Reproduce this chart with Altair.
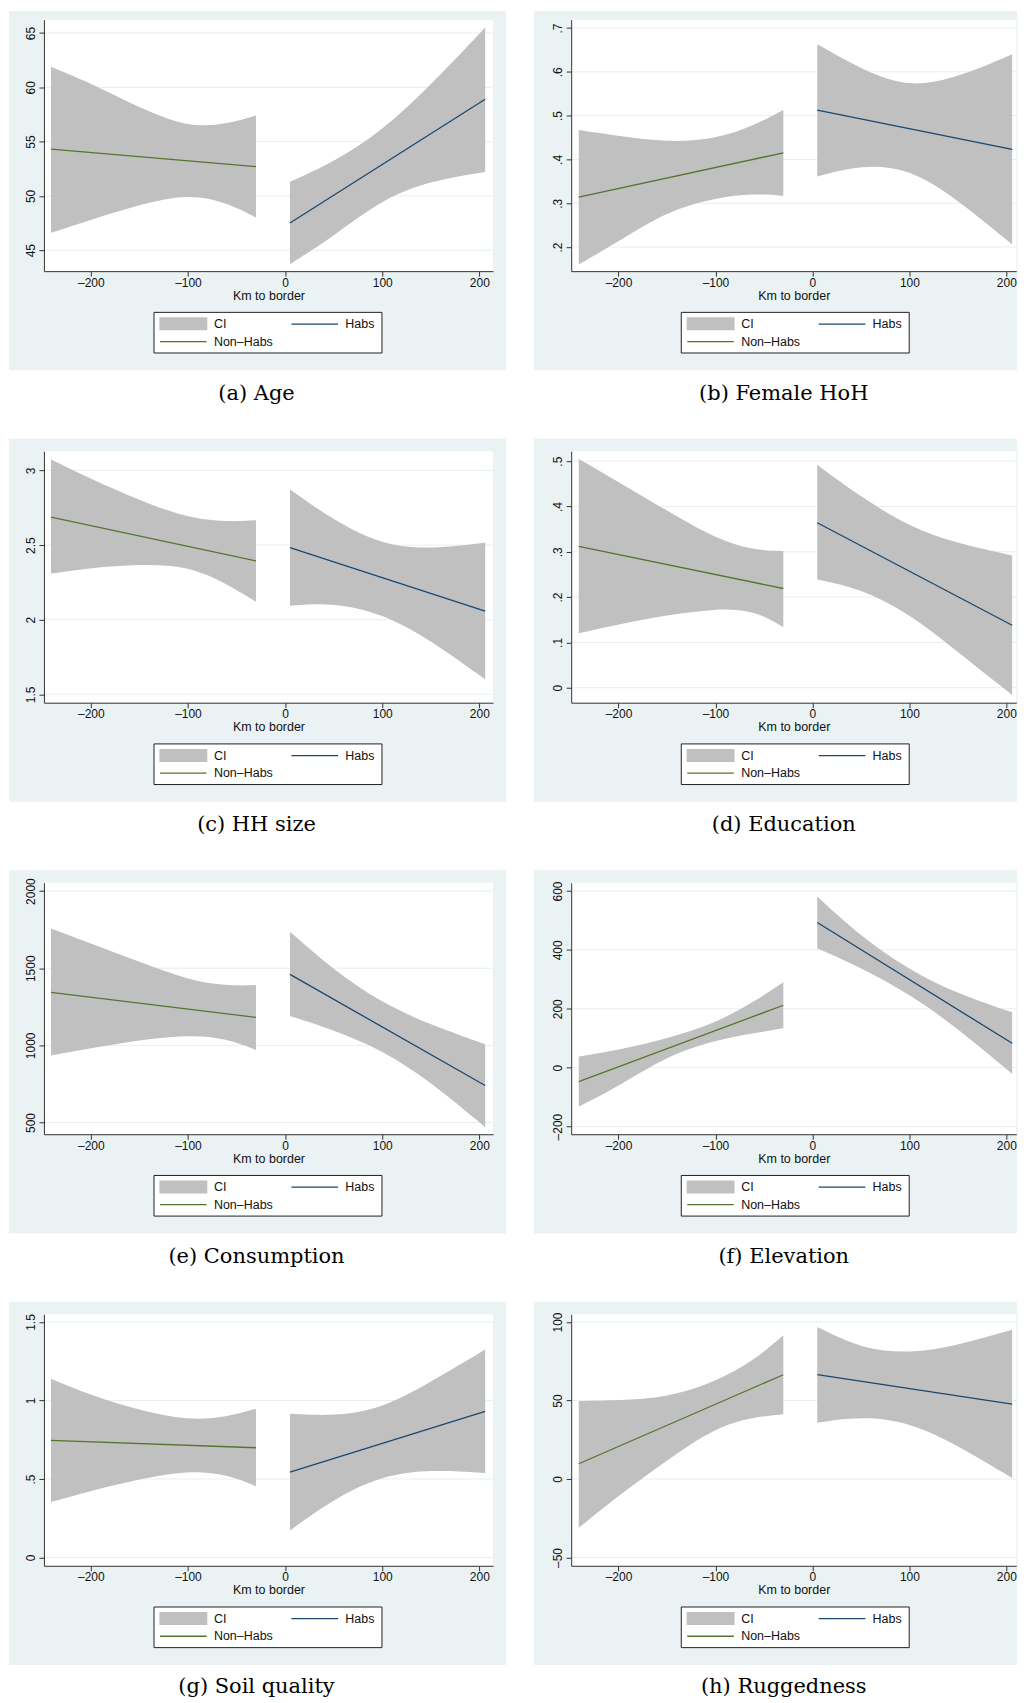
import altair as alt
import pandas as pd

# ---------------- data ----------------
XL = [-241, -200, -150, -100, -60, -30]      # Non-Habs side (km to border)
XR = [5, 50, 100, 150, 206]                  # Habs side
FIT_XL = [-241, -30]
FIT_XR = [5, 206]
X_TICKS = [-200, -100, 0, 100, 200]

captions = ["(a) Age", "(b) Female HoH", "(c) HH size", "(d) Education",
            "(e) Consumption", "(f) Elevation", "(g) Soil quality", "(h) Ruggedness"]

# (a) Age
age_loL = [46.6, 47.8, 49.2, 50.2, 49.4, 48.0]
age_hiL = [61.9, 60.4, 58.1, 56.3, 56.6, 57.4]
age_loR = [43.7, 46.3, 49.7, 51.4, 52.2]
age_hiR = [51.3, 53.1, 56.0, 60.2, 65.5]
age_fitL = [54.3, 52.7]
age_fitR = [47.5, 58.9]
age_dom = [43.07, 66.23]
age_ticks = [45, 50, 55, 60, 65]

# (b) Female HoH
fem_loL = [0.160, 0.213, 0.282, 0.313, 0.322, 0.317]
fem_hiL = [0.467, 0.454, 0.439, 0.446, 0.477, 0.513]
fem_loR = [0.361, 0.388, 0.380, 0.308, 0.206]
fem_hiR = [0.663, 0.606, 0.563, 0.587, 0.640]
fem_fitL = [0.314, 0.415]
fem_fitR = [0.5125, 0.423]
fem_dom = [0.145, 0.719]
fem_ticks = [0.2, 0.3, 0.4, 0.5, 0.6, 0.7]

# (c) HH size
hh_loL = [2.309, 2.347, 2.372, 2.362, 2.242, 2.120]
hh_hiL = [3.074, 2.944, 2.800, 2.680, 2.655, 2.666]
hh_loR = [2.093, 2.115, 2.042, 1.863, 1.600]
hh_hiR = [2.873, 2.666, 2.499, 2.472, 2.516]
hh_fitL = [2.688, 2.394]
hh_fitR = [2.483, 2.057]
hh_dom = [1.444, 3.129]
hh_ticks = [1.5, 2, 2.5, 3]

# (d) Education
edu_loL = [0.120, 0.140, 0.160, 0.175, 0.171, 0.134]
edu_hiL = [0.505, 0.454, 0.391, 0.329, 0.303, 0.302]
edu_loR = [0.239, 0.219, 0.164, 0.079, -0.016]
edu_hiR = [0.492, 0.421, 0.355, 0.318, 0.292]
edu_fitL = [0.312, 0.219]
edu_fitR = [0.364, 0.138]
edu_dom = [-0.033, 0.522]
edu_ticks = [0, 0.1, 0.2, 0.3, 0.4, 0.5]

# (e) Consumption
con_loL = [934, 981, 1035, 1068, 1046, 970]
con_hiL = [1758, 1661, 1542, 1424, 1385, 1391]
con_loR = [1191, 1100, 970, 765, 470]
con_hiR = [1737, 1488, 1273, 1132, 1007]
con_fitL = [1344, 1182]
con_fitR = [1460, 740]
con_dom = [424, 2054]
con_ticks = [500, 1000, 1500, 2000]

# (f) Elevation
ele_loL = [-132, -64, 40, 94, 117, 134]
ele_hiL = [38, 60, 98, 151, 224, 290]
ele_loR = [405, 340, 250, 134, -21]
ele_hiR = [581, 445, 332, 250, 188]
ele_fitL = [-47, 212]
ele_fitR = [493, 83]
ele_dom = [-226, 628]
ele_ticks = [-200, 0, 200, 400, 600]

# (g) Soil quality
soil_loL = [0.353, 0.425, 0.500, 0.555, 0.530, 0.453]
soil_hiL = [1.139, 1.033, 0.937, 0.873, 0.894, 0.948]
soil_loR = [0.172, 0.374, 0.523, 0.561, 0.538]
soil_hiR = [0.916, 0.899, 0.948, 1.118, 1.324]
soil_fitL = [0.746, 0.699]
soil_fitR = [0.544, 0.931]
soil_dom = [-0.053, 1.549]
soil_ticks = [0, 0.5, 1, 1.5]

# (h) Ruggedness
rug_loL = [-31.1, -10.5, 11.8, 33.1, 39.5, 41.2]
rug_hiL = [49.6, 50.1, 51.8, 61.8, 75.6, 91.5]
rug_loR = [35.8, 39.9, 36.3, 21.4, 0.6]
rug_hiR = [96.8, 83.0, 79.8, 85.1, 95.1]
rug_fitL = [9.7, 66.4]
rug_fitR = [66.4, 47.7]
rug_dom = [-55.3, 104.9]
rug_ticks = [-50, 0, 50, 100]

panels_data = [
    (age_loL, age_hiL, age_loR, age_hiR, age_fitL, age_fitR, age_dom, age_ticks),
    (fem_loL, fem_hiL, fem_loR, fem_hiR, fem_fitL, fem_fitR, fem_dom, fem_ticks),
    (hh_loL, hh_hiL, hh_loR, hh_hiR, hh_fitL, hh_fitR, hh_dom, hh_ticks),
    (edu_loL, edu_hiL, edu_loR, edu_hiR, edu_fitL, edu_fitR, edu_dom, edu_ticks),
    (con_loL, con_hiL, con_loR, con_hiR, con_fitL, con_fitR, con_dom, con_ticks),
    (ele_loL, ele_hiL, ele_loR, ele_hiR, ele_fitL, ele_fitR, ele_dom, ele_ticks),
    (soil_loL, soil_hiL, soil_loR, soil_hiR, soil_fitL, soil_fitR, soil_dom, soil_ticks),
    (rug_loL, rug_hiL, rug_loR, rug_hiR, rug_fitL, rug_fitR, rug_dom, rug_ticks),
]

# ---------------- styling ----------------
BG = "#EAF2F3"
GRID = "#E6EFF1"
CI = "#C0C0C0"
BLUE = "#1A476F"
GREEN = "#55752F"
AXC = "#333333"
SANS = "Liberation Sans"
SERIF = "DejaVu Serif"
H = 252

LBL = "replace(replace(toString(datum.value), regexp('^(-?)0[.]'), '$1.'), '-', '\u2013')"

x_axis = alt.Axis(values=X_TICKS, title="Km to border", grid=False, zindex=1,
                  tickSize=5, labelPadding=1, titlePadding=1, labelFlush=False,
                  labelFontSize=12, titleFontSize=12.5, titleFontWeight="normal",
                  labelExpr=LBL, domainColor=AXC, tickColor=AXC,
                  labelColor="#111111", titleColor="#111111",
                  labelFont=SANS, titleFont=SANS)


def make_y_axis(ticks):
    return alt.Axis(values=ticks, title=None, grid=False, zindex=1, tickSize=5,
                    labelAngle=270, labelAlign="center", labelBaseline="alphabetic",
                    labelPadding=4.5, labelFlush=False, labelFontSize=12,
                    labelExpr=LBL, domainColor=AXC, tickColor=AXC,
                    labelColor="#111111", labelFont=SANS)


def one():
    return alt.Data(values=[{"k": 0}])


def panel(i):
    loL, hiL, loR, hiR, fitL, fitR, ydom, yticks = panels_data[i]
    col, row = i % 2, i // 2
    W = 450 if col == 0 else 446
    xdom = [-248.3, 214.1] if col == 0 else [-248.8, 210.3]
    xs = alt.Scale(domain=xdom, nice=False, zero=False)
    ys = alt.Scale(domain=ydom, nice=False, zero=False)
    y_axis = make_y_axis(yticks)

    band = pd.DataFrame({"x": XL + XR, "lo": loL + loR, "hi": hiL + hiR,
                         "side": ["L"] * len(XL) + ["R"] * len(XR)})
    fit = pd.DataFrame({"x": FIT_XL + FIT_XR, "y": fitL + fitR,
                        "side": ["L", "L", "R", "R"]})
    grid_df = pd.DataFrame({"v": yticks})

    fx0 = -35 if col == 0 else -37.3
    fx1 = 463 if col == 0 else 446.7
    fy0 = -8.7 if row == 0 else -12.5

    frame = alt.Chart(one()).mark_rect(color=BG).encode(
        x=alt.value(fx0), x2=alt.value(fx1), y=alt.value(fy0), y2=alt.value(351.3))
    plotbg = alt.Chart(one()).mark_rect(color="white").encode(
        x=alt.value(0), x2=alt.value(W), y=alt.value(0), y2=alt.value(H))
    grid = alt.Chart(grid_df).mark_rule(color=GRID, strokeWidth=1).encode(
        y=alt.Y("v:Q", scale=ys, axis=y_axis), x=alt.value(0), x2=alt.value(W))
    area = alt.Chart(band).mark_area(color=CI, opacity=1, interpolate="basis").encode(
        x=alt.X("x:Q", scale=xs, axis=x_axis),
        y=alt.Y("lo:Q", scale=ys, axis=y_axis),
        y2="hi:Q",
        detail="side:N")
    lineL = alt.Chart(fit).transform_filter(alt.datum.side == "L").mark_line(
        color=GREEN, strokeWidth=1.3).encode(
        x=alt.X("x:Q", scale=xs, axis=x_axis), y=alt.Y("y:Q", scale=ys, axis=y_axis))
    lineR = alt.Chart(fit).transform_filter(alt.datum.side == "R").mark_line(
        color=BLUE, strokeWidth=1.3).encode(
        x=alt.X("x:Q", scale=xs, axis=x_axis), y=alt.Y("y:Q", scale=ys, axis=y_axis))

    # legend box (Stata style)
    box = alt.Chart(one()).mark_rect(fill="white", stroke="#222222", strokeWidth=1).encode(
        x=alt.value(110.3), x2=alt.value(338.7), y=alt.value(293.3), y2=alt.value(334))
    ci_sw = alt.Chart(one()).mark_rect(color=CI).encode(
        x=alt.value(115.7), x2=alt.value(163.7), y=alt.value(298.3), y2=alt.value(311.3))
    hab_sw = alt.Chart(one()).mark_rule(color=BLUE, strokeWidth=1.3).encode(
        x=alt.value(248), x2=alt.value(294.7), y=alt.value(305))
    nh_sw = alt.Chart(one()).mark_rule(color=GREEN, strokeWidth=1.3).encode(
        x=alt.value(116.3), x2=alt.value(163), y=alt.value(322.6))
    tkw = dict(align="left", baseline="middle", font=SANS, fontSize=12.5, color="#111111")
    t_ci = alt.Chart(one()).mark_text(text="CI", **tkw).encode(x=alt.value(170.3), y=alt.value(305))
    t_h = alt.Chart(one()).mark_text(text="Habs", **tkw).encode(x=alt.value(302), y=alt.value(305))
    t_nh = alt.Chart(one()).mark_text(text="Non\u2013Habs", **tkw).encode(
        x=alt.value(170.3), y=alt.value(322.6))

    cap_y = 381 if row < 3 else 379
    cap = alt.Chart(one()).mark_text(text=captions[i], align="center", baseline="alphabetic",
                                     font=SERIF, fontSize=21, color="#000000").encode(
        x=alt.value(213), y=alt.value(cap_y))

    return alt.layer(frame, plotbg, grid, area, lineL, lineR, box, ci_sw, hab_sw, nh_sw,
                     t_ci, t_h, t_nh, cap).properties(width=W, height=H)


charts = [panel(i) for i in range(8)]

chart = alt.concat(*charts, columns=2, spacing={"row": 180.4, "column": 78.3},
                   bounds="flush").properties(padding=0).configure_view(
    strokeWidth=0).configure(font=SANS)

chart.save("out.html", embed_options={"renderer": "svg", "actions": False})
